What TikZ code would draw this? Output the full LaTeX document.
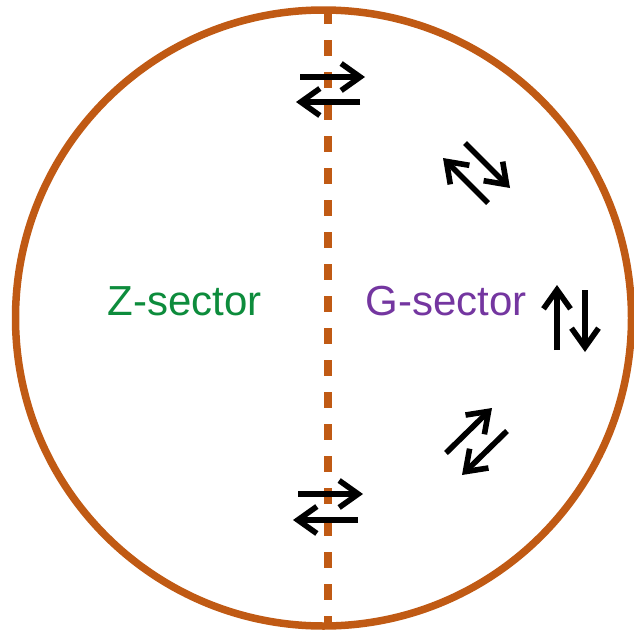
\documentclass[tikz,border=0pt]{standalone}
\usepackage{fontspec}
\setmainfont{Liberation Sans}
\usepackage{tikz}
\usetikzlibrary{arrows.meta}

\definecolor{rim}{HTML}{C05A14}
\definecolor{zgreen}{HTML}{0D8C3C}
\definecolor{gpurple}{HTML}{7436A0}

\tikzset{
  flux/.style={line width=5.6pt, -{Straight Barb[length=19pt,width=27pt]}},
  sector/.style={anchor=base, font=\fontsize{42pt}{48pt}\selectfont}
}

\begin{document}
\begin{tikzpicture}[x=1pt, y=-1pt]
  \useasboundingbox (0,0) rectangle (634,635);

  % bordo
  \draw[rim, line width=7.5pt] (323.5,318) circle (308);

  % separazione
  \draw[rim, line width=7.5pt, dash pattern=on 16pt off 16pt] (328,8) -- (328,628);

  % settori
  \node[sector, text=zgreen] (zsec) at (184.5,315) {Z-sector};
  \node[sector, text=gpurple] (gsec) at (446,315) {G-sector};

  % scambi in alto
  \draw[flux] (300,77) -- (365,77);
  \draw[flux] (360,102) -- (296,102);

  % scambi in basso
  \draw[flux] (298,494) -- (363,494);
  \draw[flux] (358,520) -- (293,520);

  % scambi diagonali alti
  \draw[flux] (488,203) -- (443,158);
  \draw[flux] (465,143) -- (510,188);

  % scambi verticali
  \draw[flux] (557,350) -- (557,285);
  \draw[flux] (585,290) -- (585,352);

  % scambi diagonali bassi
  \draw[flux] (446,453) -- (492,408);
  \draw[flux] (507,431) -- (462,475);
\end{tikzpicture}
\end{document}
